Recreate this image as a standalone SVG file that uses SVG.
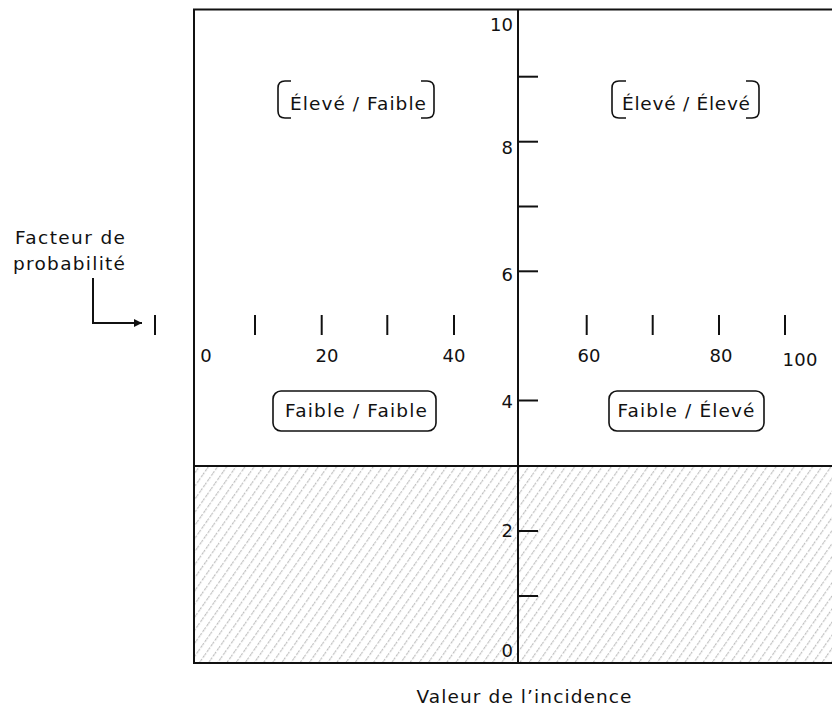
<svg xmlns="http://www.w3.org/2000/svg" width="832" height="708" viewBox="0 0 832 708">
<style>
  .t { font-family: "DejaVu Sans", "Liberation Sans", sans-serif; fill: #111; }
  .lab { font-size: 18.5px; }
  .num { font-size: 18px; }
  .ln { stroke: #111; stroke-width: 2; fill: none; }
  .tick { stroke: #111; stroke-width: 2; fill: none; }
  .box { stroke: #111; stroke-width: 1.6; fill: none; }
</style>
<defs>
  <pattern id="hatch" patternUnits="userSpaceOnUse" width="7.5" height="7" patternTransform="rotate(35)">
    <line x1="3.5" y1="0" x2="3.5" y2="7" stroke="#a8a8a8" stroke-width="0.9" stroke-dasharray="2.5 1.5"/>
  </pattern>
  <marker id="arr" viewBox="0 0 10 10" refX="10" refY="5" markerWidth="10" markerHeight="8" markerUnits="userSpaceOnUse" orient="auto">
    <path d="M0,0 L10,5 L0,10 z" fill="#111"/>
  </marker>
</defs>

<g id="hatched-zone">
  <rect x="194" y="466" width="640" height="197" fill="url(#hatch)"/>
</g>

<g id="frame">
  <path class="ln" d="M834 9.5 H194 V663 H834"/>
  <line class="ln" x1="194" y1="466" x2="834" y2="466"/>
  <line class="ln" x1="518" y1="9.5" x2="518" y2="663"/>
</g>

<g id="y-axis">
  <g class="tick">
    <line x1="518" y1="76.7" x2="538" y2="76.7"/>
    <line x1="518" y1="141.7" x2="538" y2="141.7"/>
    <line x1="518" y1="206.5" x2="538" y2="206.5"/>
    <line x1="518" y1="271.3" x2="538" y2="271.3"/>
    <line x1="518" y1="400.5" x2="538" y2="400.5"/>
    <line x1="518" y1="531" x2="538" y2="531"/>
    <line x1="518" y1="596" x2="538" y2="596"/>
  </g>
  <g class="t num" text-anchor="end">
    <text x="513" y="31">10</text>
    <text x="513" y="154">8</text>
    <text x="513" y="281">6</text>
    <text x="513" y="408">4</text>
    <text x="513" y="537">2</text>
    <text x="513" y="657">0</text>
  </g>
</g>

<g id="x-axis">
  <g class="tick">
    <line x1="255" y1="315" x2="255" y2="335"/>
    <line x1="321.7" y1="315" x2="321.7" y2="335"/>
    <line x1="387.3" y1="315" x2="387.3" y2="335"/>
    <line x1="454" y1="315" x2="454" y2="335"/>
    <line x1="586.7" y1="315" x2="586.7" y2="335"/>
    <line x1="652.7" y1="315" x2="652.7" y2="335"/>
    <line x1="719" y1="315" x2="719" y2="335"/>
    <line x1="785" y1="315" x2="785" y2="335"/>
  </g>
  <g class="t num" text-anchor="middle">
    <text x="206" y="362">0</text>
    <text x="327" y="362">20</text>
    <text x="454" y="362">40</text>
    <text x="589" y="362">60</text>
    <text x="721" y="362">80</text>
    <text x="800" y="366" textLength="35" lengthAdjust="spacing">100</text>
  </g>
</g>

<g id="facteur-probabilite">
  <text class="t lab" x="70" y="244" text-anchor="middle" textLength="110" lengthAdjust="spacing">Facteur de</text>
  <text class="t lab" x="69" y="270" text-anchor="middle" textLength="112" lengthAdjust="spacing">probabilité</text>
</g>

<g id="connectors">
  <path class="ln" d="M93 278 V323 H142" marker-end="url(#arr)"/>
  <line class="tick" x1="155" y1="315" x2="155" y2="335"/>
</g>

<g id="eleve-faible">
  <path class="box" d="M291 81 H285 Q278 81 278 88 V111 Q278 118 285 118 H291"/>
  <path class="box" d="M421 81 H427 Q434 81 434 88 V111 Q434 118 427 118 H421"/>
  <text class="t lab" x="358" y="110" text-anchor="middle" textLength="136" lengthAdjust="spacing">Élevé / Faible</text>
</g>

<g id="eleve-eleve">
  <path class="box" d="M626 81 H619 Q612 81 612 88 V111 Q612 118 619 118 H626"/>
  <path class="box" d="M746 81 H752 Q759 81 759 88 V111 Q759 118 752 118 H746"/>
  <text class="t lab" x="686" y="110" text-anchor="middle" textLength="128" lengthAdjust="spacing">Élevé / Élevé</text>
</g>

<g id="faible-faible">
  <rect class="box" x="273" y="391" width="163" height="40" rx="8"/>
  <text class="t lab" x="356" y="417" text-anchor="middle" textLength="142" lengthAdjust="spacing">Faible / Faible</text>
</g>

<g id="faible-eleve">
  <rect class="box" x="609" y="391" width="155" height="40" rx="8"/>
  <text class="t lab" x="686" y="417" text-anchor="middle" textLength="137" lengthAdjust="spacing">Faible / Élevé</text>
</g>

<g id="x-title">
  <text class="t lab" x="524" y="703" text-anchor="middle" textLength="215" lengthAdjust="spacing">Valeur de l’incidence</text>
</g>
</svg>
